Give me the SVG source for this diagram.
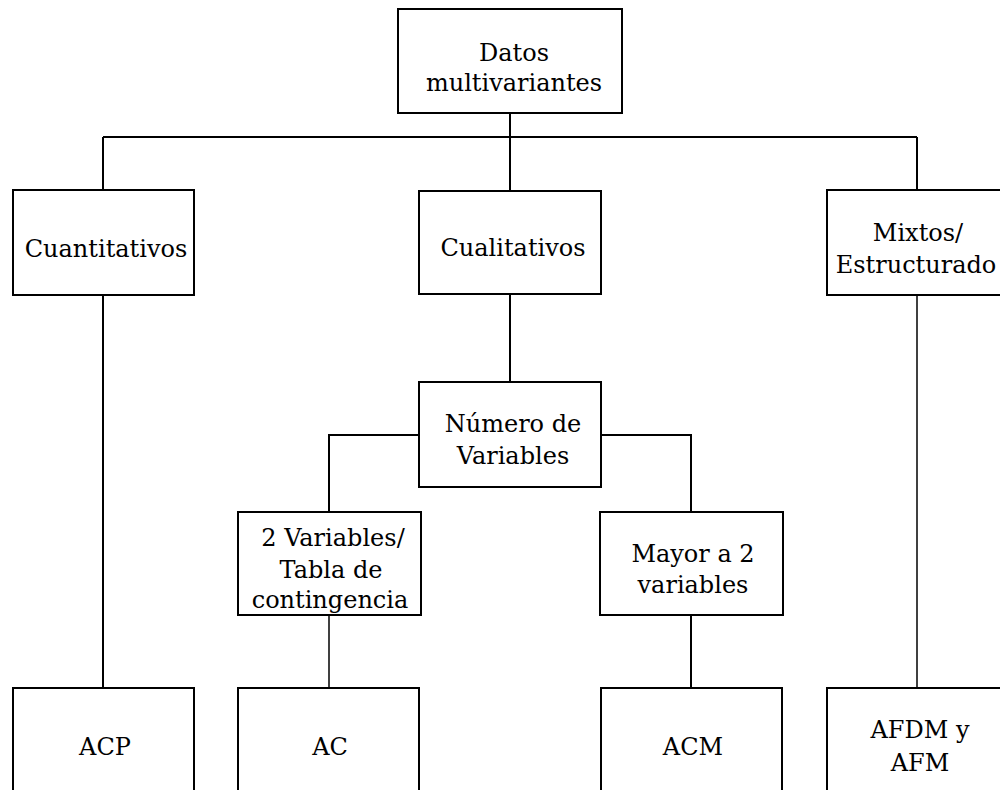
<svg xmlns="http://www.w3.org/2000/svg" width="1000" height="790" viewBox="0 0 1000 790">
<style>
rect.box{fill:#fff;stroke:#000;stroke-width:2}
path.c{fill:none;stroke:#000;stroke-width:2}
</style>
<rect width="1000" height="790" fill="#fff"/>
<g id="connectors">
<path class="c" d="M510,113 V137 M103,137 H917 M103,137 V190 M510,137 V191 M917,137 V190"/>
<path class="c" d="M103,295 V688"/>
<path class="c" d="M510,294 V382"/>
<path class="c" d="M419,435 H329 V512 M601,435 H691 V512"/>
<path class="c" d="M329,615 V688" style="stroke-width:1.5"/>
<path class="c" d="M691,615 V688"/>
<path class="c" d="M917,295 V688" style="stroke-width:1.5"/>
</g>
<g font-family="'DejaVu Serif', serif" font-size="24" fill="#000" text-anchor="middle">
<g id="datos">
<rect class="box" x="398" y="9" width="224" height="104"/>
<text x="514" y="61">Datos</text>
<text x="514" y="91">multivariantes</text>
</g>
<g id="cuantitativos">
<rect class="box" x="13" y="190" width="181" height="105"/>
<text x="106" y="257">Cuantitativos</text>
</g>
<g id="cualitativos">
<rect class="box" x="419" y="191" width="182" height="103"/>
<text x="513" y="256">Cualitativos</text>
</g>
<g id="mixtos">
<rect class="box" x="827" y="190" width="181" height="105"/>
<text x="918" y="241">Mixtos/</text>
<text x="916" y="273">Estructurado</text>
</g>
<g id="numero">
<rect class="box" x="419" y="382" width="182" height="105"/>
<text x="513" y="432">Número de</text>
<text x="513" y="464">Variables</text>
</g>
<g id="dos-variables">
<rect class="box" x="238" y="512" width="183" height="103"/>
<text x="333" y="546">2 Variables/</text>
<text x="331" y="578">Tabla de</text>
<text x="330" y="608">contingencia</text>
</g>
<g id="mayor">
<rect class="box" x="600" y="512" width="183" height="103"/>
<text x="693" y="562">Mayor a 2</text>
<text x="693" y="593">variables</text>
</g>
<g id="acp">
<rect class="box" x="13" y="688" width="181" height="120"/>
<text x="105" y="755">ACP</text>
</g>
<g id="ac">
<rect class="box" x="238" y="688" width="181" height="120"/>
<text x="330" y="755">AC</text>
</g>
<g id="acm">
<rect class="box" x="601" y="688" width="181" height="120"/>
<text x="693" y="755">ACM</text>
</g>
<g id="afdm">
<rect class="box" x="827" y="688" width="181" height="120"/>
<text x="920" y="738">AFDM y</text>
<text x="920" y="771">AFM</text>
</g>
</g>
</svg>
